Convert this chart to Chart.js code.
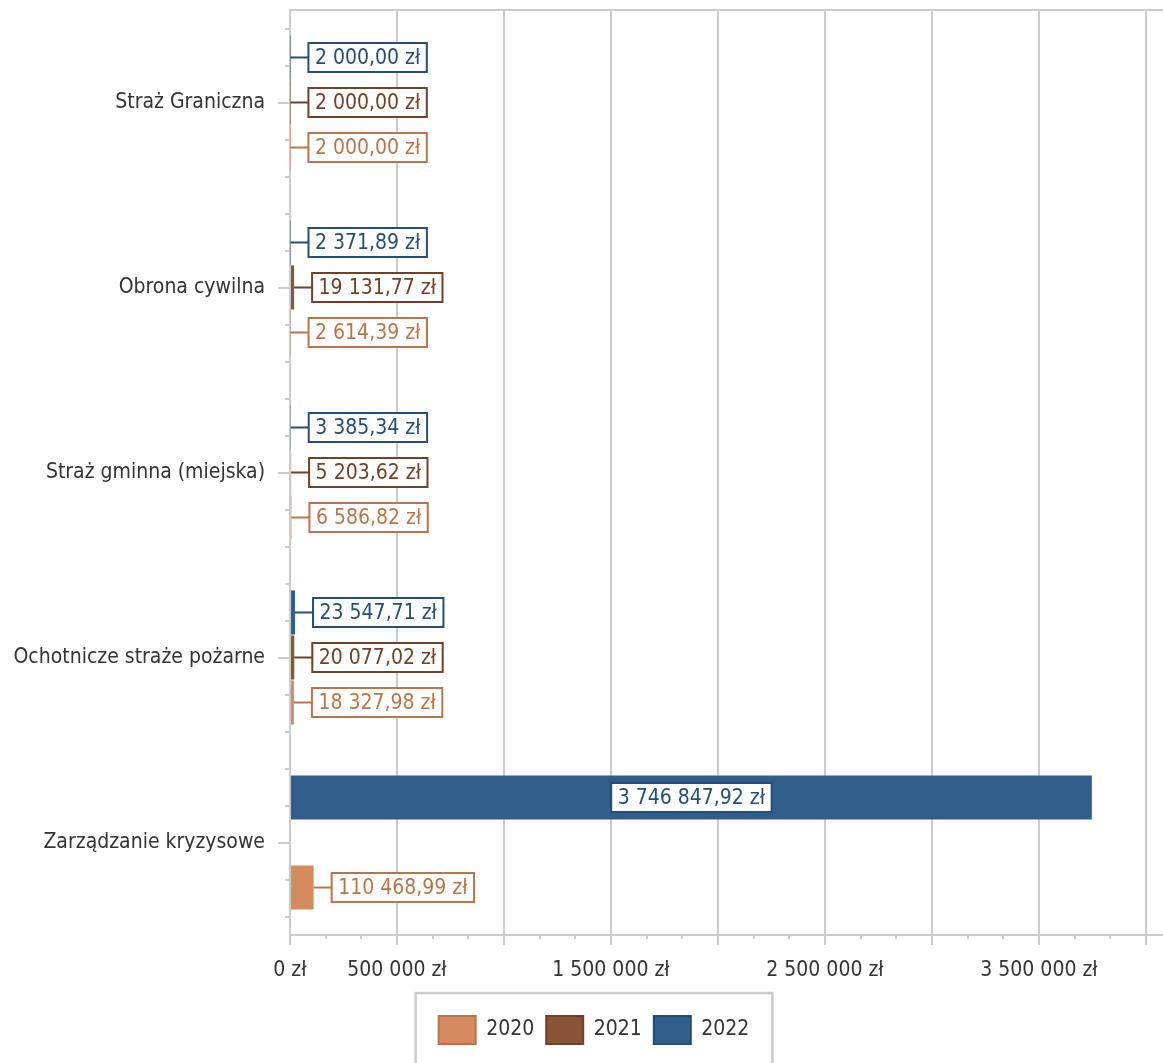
<!DOCTYPE html>
<html lang="pl">
<head>
<meta charset="utf-8">
<title>Wydatki</title>
<script src="https://cdn.jsdelivr.net/npm/chart.js@4/dist/chart.umd.min.js"></script>
<style>
  html, body { margin: 0; padding: 0; background: #fff; }
  #wrap { width: 1163px; height: 1063px; position: relative; }
</style>
</head>
<body>
<div id="wrap"><canvas id="chart"></canvas></div>
<script>
// dane
var categories = ['Straż Graniczna', 'Obrona cywilna', 'Straż gminna (miejska)', 'Ochotnicze straże pożarne', 'Zarządzanie kryzysowe'];
var values2020 = [2000.00, 2614.39, 6586.82, 18327.98, 110468.99];
var values2021 = [2000.00, 19131.77, 5203.62, 20077.02, null];
var values2022 = [2000.00, 2371.89, 3385.34, 23547.71, 3746847.92];
var xShownTicks = [0, 500000, 1500000, 2500000, 3500000];

var FONT = '"DejaVu Sans Condensed", "DejaVu Sans", sans-serif';
var GRID = '#cccccc';

function groupDigits(s) {
    return s.replace(/\B(?=(\d{3})+(?!\d))/g, ' ');
}
function formatZl(v) {
    var parts = v.toFixed(2).split('.');
    return groupDigits(parts[0]) + ',' + parts[1] + ' zł';
}

// etykiety wartosci w ramkach
var valueLabels = {
    id: 'valueLabels',
    afterDatasetsDraw: function(chart) {
        var ctx = chart.ctx;
        ctx.save();
        ctx.font = '21px ' + FONT;
        ctx.textBaseline = 'middle';
        ctx.lineWidth = 2;
        chart.data.datasets.forEach(function(ds, di) {
            var meta = chart.getDatasetMeta(di);
            meta.data.forEach(function(bar, i) {
                var v = ds.data[i];
                if (v == null) return;
                var text = formatZl(v);
                var w = ctx.measureText(text).width + 13;
                var h = 29;
                var len = bar.x - bar.base;
                var left;
                ctx.strokeStyle = ds.labelColor;
                if (len > w + 40) {
                    left = bar.base + len / 2 - w / 2;
                } else {
                    left = bar.x + 18;
                    ctx.beginPath();
                    ctx.moveTo(bar.x, bar.y);
                    ctx.lineTo(left, bar.y);
                    ctx.stroke();
                }
                var top = Math.round(bar.y - h / 2);
                ctx.fillStyle = '#fff';
                ctx.fillRect(left, top, w, h);
                ctx.strokeRect(left, top, w, h);
                ctx.fillStyle = ds.labelColor;
                ctx.fillText(text, left + 6.5, bar.y + 1);
            });
        });
        ctx.restore();
    }
};

// drobne podzialki, gorna linia, ramka legendy
var decorations = {
    id: 'decorations',
    afterLayout: function(chart) {
        // legenda w oryginale jest przesunieta nieco w prawo
        chart.legend.left += 42;
    },
    afterDraw: function(chart) {
        var ctx = chart.ctx;
        var area = chart.chartArea;
        var xs = chart.scales.x;
        var ys = chart.scales.y;
        ctx.save();
        ctx.strokeStyle = GRID;
        ctx.lineWidth = 2;
        ctx.beginPath();
        ctx.moveTo(area.left, area.top);
        ctx.lineTo(chart.width, area.top);
        ctx.moveTo(area.right, area.bottom);
        ctx.lineTo(chart.width, area.bottom);
        // y minor
        var catH = (ys.bottom - ys.top) / categories.length;
        for (var i = 0; i < categories.length; i++) {
            var cy = ys.getPixelForValue(i);
            [-2, -1, 1, 2].forEach(function(k) {
                var yy = Math.round(cy + k * catH / 5);
                ctx.moveTo(area.left - 5, yy);
                ctx.lineTo(area.left, yy);
            });
        }
        // x minor
        var step = 500000 / 3;
        for (var v = step; v < xs.max; v += step) {
            if (Math.abs(v / 500000 - Math.round(v / 500000)) < 1e-6) continue;
            var xx = Math.round(xs.getPixelForValue(v));
            ctx.moveTo(xx, area.bottom);
            ctx.lineTo(xx, area.bottom + 4);
        }
        ctx.stroke();

        var boxes = chart.legend.legendHitBoxes;
        if (boxes && boxes.length) {
            var first = boxes[0], last = boxes[boxes.length - 1];
            var l = first.left - 23, r = last.left + last.width + 23, t = first.top - 23;
            ctx.strokeStyle = '#cccccc';
            ctx.lineWidth = 2.5;
            ctx.beginPath();
            ctx.moveTo(l, chart.height + 5);
            ctx.lineTo(l, t);
            ctx.lineTo(r, t);
            ctx.lineTo(r, chart.height + 5);
            ctx.stroke();
        }
        ctx.restore();
    }
};

var ctx = document.getElementById('chart');
var chart = new Chart(ctx, {
    type: 'bar',
    data: {
        labels: categories,
        datasets: [
            { label: '2022', data: values2022, backgroundColor: '#305d89', borderColor: '#264d73', labelColor: '#264d73', borderWidth: 0 },
            { label: '2021', data: values2021, backgroundColor: '#8a5536', borderColor: '#6e4128', labelColor: '#6e4128', borderWidth: 0 },
            { label: '2020', data: values2020, backgroundColor: '#d58a5f', borderColor: '#b8754c', labelColor: '#b8754c', borderWidth: 0 }
        ]
    },
    options: {
        indexAxis: 'y',
        responsive: true,
        maintainAspectRatio: false,
        animation: false,
        categoryPercentage: 0.73,
        barPercentage: 0.98,
        layout: { padding: { top: 10, right: 17, bottom: 9, left: 0 } },
        scales: {
            x: {
                min: 0,
                max: 4000000,
                grid: { color: GRID, lineWidth: 2, tickLength: 10 },
                border: { color: GRID, width: 2 },
                ticks: {
                    stepSize: 500000,
                    autoSkip: false,
                    maxRotation: 0,
                    padding: 13,
                    color: '#333',
                    font: { family: FONT, size: 21 },
                    callback: function(value) {
                        if (xShownTicks.indexOf(value) < 0) return '';
                        return groupDigits(String(value)) + ' zł';
                    }
                },
                afterFit: function(scale) { scale.height = 69; }
            },
            y: {
                grid: { color: GRID, lineWidth: 2, tickLength: 12, drawOnChartArea: false, offset: false },
                border: { color: GRID, width: 2 },
                ticks: {
                    padding: 13,
                    color: '#333',
                    font: { family: FONT, size: 21 }
                },
                afterFit: function(scale) {
                    scale.width = 290;
                    scale.paddingTop = 0;
                    scale.paddingBottom = 0;
                }
            }
        },
        plugins: {
            tooltip: { enabled: false },
            legend: {
                position: 'bottom',
                reverse: true,
                labels: {
                    boxWidth: 37,
                    boxHeight: 28,
                    padding: 12,
                    color: '#333',
                    font: { family: FONT, size: 21 },
                    generateLabels: function(chart) {
                        var items = Chart.defaults.plugins.legend.labels.generateLabels(chart);
                        items.forEach(function(it) { it.lineWidth = 2; });
                        return items;
                    }
                }
            }
        }
    },
    plugins: [valueLabels, decorations]
});
</script>
</body>
</html>
